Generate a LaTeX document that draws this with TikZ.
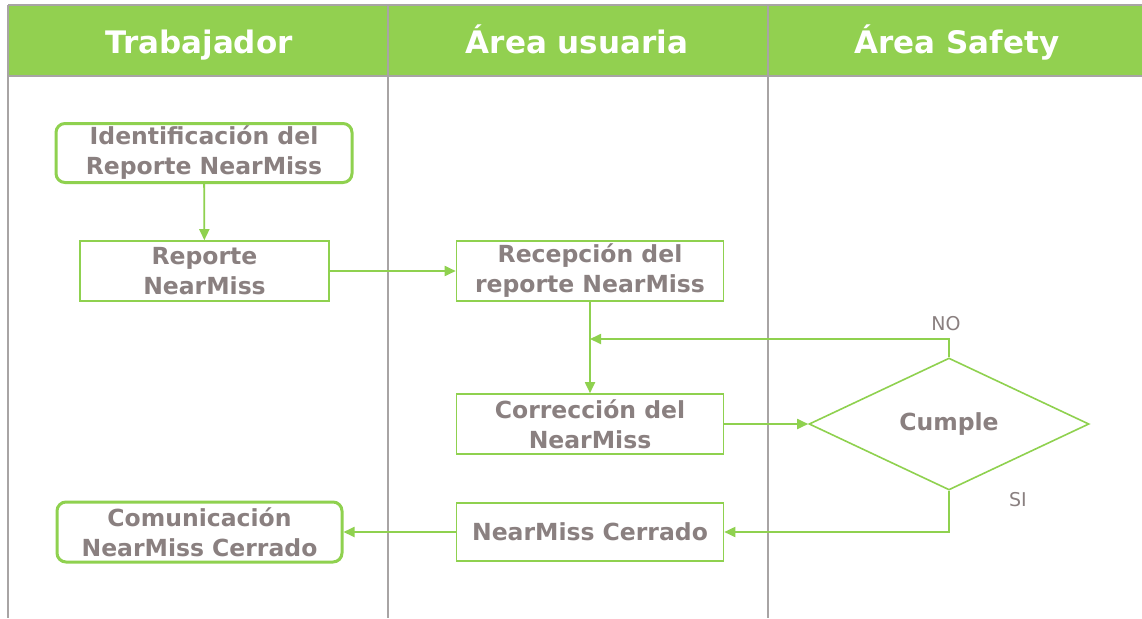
\documentclass[tikz,border=0pt]{standalone}
\usepackage{fontspec}
\setmainfont{DejaVu Sans}
\usetikzlibrary{shapes.geometric,arrows.meta}
\definecolor{lanegreen}{HTML}{92D050}
\definecolor{linegreen}{HTML}{8FD14F}
\definecolor{lanegray}{HTML}{A8A4A4}
\definecolor{txtgray}{HTML}{8A8080}
\tikzset{
	procbox/.style={draw=linegreen, line width=1.6pt, rectangle, align=center, text=txtgray,
		font=\fontsize{23.5}{30}\selectfont\bfseries, inner sep=0pt},
	termbox/.style={procbox, rounded corners=9pt, line width=3pt},
	decision/.style={draw=linegreen, line width=1.6pt, diamond, text=txtgray, inner sep=0pt,
		font=\fontsize{23.5}{30}\selectfont\bfseries, minimum width=280pt, minimum height=132pt},
	lanehead/.style={text=white, anchor=base, font=\fontsize{31}{36}\selectfont\bfseries},
	flow/.style={draw=linegreen, line width=1.8pt, -{Triangle[length=11pt,width=10pt]}},
	tag/.style={text=txtgray, font=\fontsize{19}{22}\selectfont}
}
\begin{document}
\begin{tikzpicture}[x=1pt, y=-1pt]
		\useasboundingbox (0,0) rectangle (1142,618);
		\fill[white] (0,0) rectangle (1142,618);
		\fill[lanegreen] (8,5) rectangle (1142,76);
		\draw[lanegray, line width=2pt] (8,5) -- (1142,5);
		\draw[lanegray, line width=2pt] (8,76) -- (1142,76);
		\foreach \lx in {8,388,768}
			\draw[lanegray, line width=2pt] (\lx,5) -- (\lx,618);
		\node (h1)[lanehead] at(199,53) {Trabajador};
		\node (h2)[lanehead] at(577,53) {Área usuaria};
		\node (h3)[lanehead] at(957,53) {Área Safety};
		\node (ident)[termbox, minimum width=296pt, minimum height=59pt] at(204,153) {Identificación del\\Reporte NearMiss};
		\node (rep)[procbox, minimum width=249pt, minimum height=60pt] at(204.5,271) {Reporte\\NearMiss};
		\node (recep)[procbox, minimum width=267pt, minimum height=60pt] at(590,271) {Recepción del\\reporte NearMiss};
		\node (corr)[procbox, minimum width=267pt, minimum height=60pt] at(590,424) {Corrección del\\NearMiss};
		\node (cumple)[decision] at(949,424) {Cumple};
		\node (cerr)[procbox, minimum width=267pt, minimum height=58pt] at(590,532) {NearMiss Cerrado};
		\node (comu)[termbox, minimum width=285pt, minimum height=60pt] at(199.5,532) {Comunicación\\NearMiss Cerrado};
		\node (no)[tag] at(946,324) {NO};
		\node (si)[tag] at(1018,500) {SI};
		\coordinate (merge) at(590,339);
		\draw [flow](ident)--(rep);
		\draw [flow](rep)--(recep);
		\draw [flow](recep)--(corr);
		\draw [flow](cumple.north)|-(merge);
		\draw [flow](corr)--(cumple);
		\draw [flow](cumple.south)|-(cerr);
		\draw [flow](cerr)--(comu);
	\end{tikzpicture}
\end{document}
